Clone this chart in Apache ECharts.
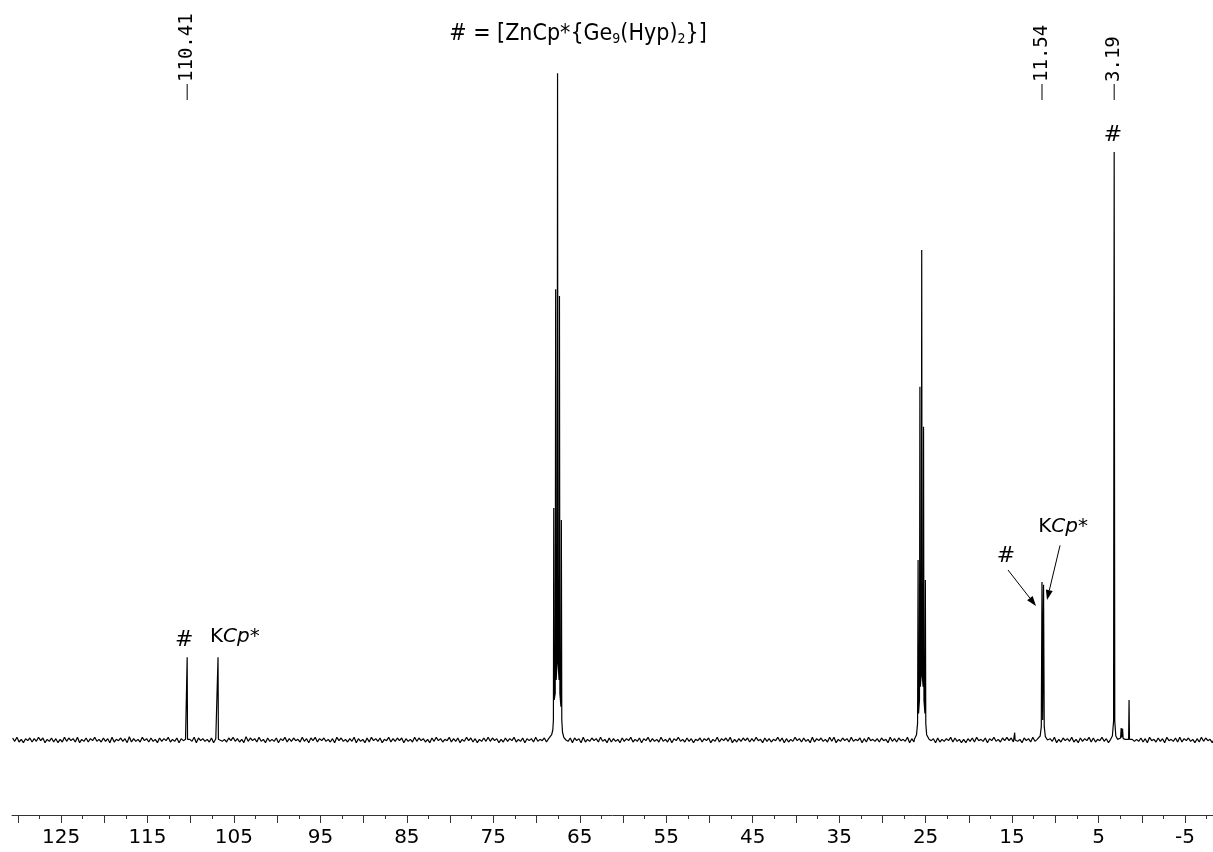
<!DOCTYPE html>
<html><head><meta charset="utf-8">
<script src="https://cdn.jsdelivr.net/npm/echarts@6/dist/echarts.min.js"></script>
<style>html,body{margin:0;padding:0;background:#fff}#c{width:1213px;height:852px}</style>
</head><body><div id="c"></div>
<script>
// ---- data ----
const noiseStart = 130.6, noiseStep = 0.25;
const noise = [
0.3,-0.2,0.4,-0.3,0.1,-0.4,0.2,-0.1,0.3,-0.3,0.2,-0.2,0.4,-0.1,0.3,-0.4,0.1,-0.2,0.3,-0.3,
0.2,-0.4,0.1,-0.3,0.4,-0.2,0.3,-0.1,0.2,-0.3,0.4,-0.4,0.1,-0.2,0.3,-0.3,0.2,-0.1,0.4,-0.2,
0.1,-0.3,0.3,-0.2,0.2,-0.4,0.4,-0.3,0.1,-0.1,0.3,-0.2,0.2,-0.4,0.5,-0.3,0.2,-0.2,0.1,-0.3,
0.4,-0.1,0.2,-0.3,0.3,-0.2,0.1,-0.4,0.3,-0.2,0.2,-0.1,0.4,-0.3,0.1,-0.2,0.3,-0.4,0.2,-0.1,
0.2,-0.3,0.1,-0.2,0.4,-0.4,0.3,-0.1,0.2,-0.2,0.1,-0.3,0.3,-0.4,0.2,-0.1,0.4,-0.2,0.1,-0.3,
0.3,-0.1,0.4,-0.2,0.2,-0.3,0.1,-0.4,0.5,-0.2,0.3,-0.1,0.2,-0.3,0.4,-0.2,0.1,-0.4,0.3,-0.2,
0.1,-0.2,0.3,-0.4,0.2,-0.1,0.4,-0.3,0.2,-0.2,0.3,-0.1,0.1,-0.3,0.4,-0.2,0.2,-0.4,0.3,-0.1,
0.4,-0.3,0.2,-0.1,0.3,-0.2,0.1,-0.3,0.2,-0.4,0.4,-0.1,0.3,-0.2,0.1,-0.3,0.2,-0.2,0.4,-0.4,
0.2,-0.2,0.1,-0.4,0.3,-0.3,0.4,-0.1,0.2,-0.2,0.3,-0.4,0.1,-0.1,0.4,-0.3,0.2,-0.2,0.3,-0.1,
0.3,-0.4,0.2,-0.2,0.1,-0.3,0.4,-0.2,0.3,-0.1,0.2,-0.3,0.1,-0.4,0.3,-0.2,0.4,-0.1,0.2,-0.3,
0.1,-0.1,0.4,-0.3,0.2,-0.2,0.3,-0.4,0.1,-0.2,0.4,-0.1,0.3,-0.3,0.2,-0.4,0.1,-0.2,0.3,-0.2,
0.4,-0.2,0.3,-0.1,0.2,-0.4,0.1,-0.3,0.3,-0.2,0.2,-0.1,0.4,-0.3,0.1,-0.2,0.3,-0.4,0.2,-0.1,
0.2,-0.3,0.4,-0.2,0.1,-0.1,0.3,-0.3,0.2,-0.4,0.3,-0.2,0.1,-0.3,0.4,-0.1,0.2,-0.2,0.3,-0.4,
0.3,-0.1,0.2,-0.4,0.4,-0.3,0.1,-0.2,0.3,-0.1,0.2,-0.3,0.4,-0.2,0.1,-0.4,0.3,-0.3,0.2,-0.2,
0.1,-0.4,0.3,-0.2,0.2,-0.1,0.4,-0.3,0.1,-0.2,0.3,-0.4,0.2,-0.1,0.4,-0.3,0.2,-0.2,0.1,-0.3,
0.4,-0.2,0.1,-0.3,0.3,-0.4,0.2,-0.1,0.4,-0.2,0.1,-0.3,0.3,-0.2,0.2,-0.4,0.1,-0.1,0.3,-0.3,
0.2,-0.1,0.3,-0.4,0.1,-0.2,0.4,-0.3,0.2,-0.1,0.3,-0.2,0.4,-0.4,0.1,-0.3,0.2,-0.2,0.3,-0.1,
0.3,-0.3,0.2,-0.2,0.4,-0.1,0.1,-0.4,0.3,-0.2,0.2,-0.3,0.1,-0.1,0.4,-0.2,0.3,-0.4,0.2,-0.3,
0.1,-0.2,0.4,-0.1,0.2,-0.3,0.3,-0.2,0.1,-0.4,0.4,-0.3,0.2,-0.1,0.3,-0.2,0.1,-0.3,0.4,-0.2,
0.4,-0.4,0.1,-0.2,0.3,-0.1,0.2,-0.3,0.4,-0.2,0.1,-0.1,0.3,-0.4,0.2,-0.3,0.4,-0.1,0.1,-0.2,
0.2,-0.3,0.3,-0.1,0.1,-0.4,0.4,-0.2,0.2,-0.3,0.3,-0.1,0.1,-0.2,0.4,-0.4,0.2,-0.3,0.3,-0.2,
0.3,-0.2,0.1,-0.3,0.4,-0.1,0.2,-0.4,0.3,-0.3,0.1,-0.2,0.2,-0.1,0.4,-0.3,0.3,-0.2,0.1,-0.4,
0.1,-0.4,0.2,-0.2,0.3,-0.3,0.4,-0.1,0.1,-0.2,0.3,-0.4,0.2,-0.1,0.4,-0.2,0.1,-0.3,0.3,-0.1,
0.4,-0.1,0.3,-0.3,0.2,-0.2,0.1,-0.4,0.3,-0.1,0.2,-0.3,0.4,-0.2,0.1,-0.1,0.3,-0.4,0.2,-0.2,
0.2,-0.2,0.4,-0.4,0.1,-0.3,0.3,-0.1,0.2,-0.2,0.4,-0.3,0.1,-0.4,0.3,-0.2,0.2,-0.1,0.4,-0.3,
0.3,-0.3,0.1,-0.1,0.4,-0.2,0.2,-0.4,0.3,-0.3,0.1,-0.2,0.4,-0.1,0.2,-0.3,0.3,-0.4,0.1,-0.2,
0.1,-0.2,0.3,-0.3,0.2,-0.4,0.4,-0.1,0.1,-0.3,0.3,-0.2,0.2,-0.4,0.4,-0.1,0.1,-0.2,0.3,-0.3,
0.4,-0.3,0.2,-0.1,0.3,-0.2,0.1,-0.4,0.2,-0.3,0.4,-0.2,0.3,-0.1,0.1,-0.4,0.2,-0.2,0.3,-0.1
];
// peak groups: [ppm, intensity]
const peakHash110 = [[110.6,0.1],[110.45,0.2],[110.41,12.4],[110.37,0.1],[110.2,-0.1]];
const peakKCp107 = [[107.05,0],[106.88,0.2],[106.84,12.4],[106.80,0.1],[106.6,0]];
const peakTHF67 = [[68.5,0.2],[68.25,0.8],[68.12,1.5],[68.05,3],[68.01,34.8],[67.96,6],[67.84,7],[67.79,67.6],[67.73,9],[67.62,12],[67.57,100],[67.52,12],[67.40,9],[67.35,66.6],[67.30,7],[67.18,5],[67.13,33],[67.08,3],[67.0,1.2],[66.85,0.4],[66.6,0]];
const peakTHF25 = [[26.3,0.1],[26.05,0.8],[25.93,2.5],[25.87,27],[25.82,4],[25.71,6],[25.66,53],[25.61,8],[25.50,10],[25.45,73.5],[25.40,10],[25.29,8],[25.24,47],[25.19,6],[25.08,4],[25.03,24],[24.98,2.5],[24.88,0.8],[24.6,0.1]];
const peakSmall15 = [[14.75,0],[14.7,1.1],[14.65,0]];
const peak11 = [[12.0,0.1],[11.75,0.6],[11.62,2],[11.54,23.7],[11.46,3],[11.36,23.3],[11.28,2],[11.15,0.5],[10.9,0]];
const peak3 = [[3.6,0.1],[3.4,0.6],[3.26,2.8],[3.19,88.2],[3.12,2.8],[3.0,0.6],[2.8,0.1],[2.45,0.3],[2.38,1.8],[2.32,0.4],[2.22,1.7],[2.15,0.2],[1.9,0.1],[1.52,0.1],[1.47,6],[1.42,0.1],[1.2,0]];

const majorTicks = [130,125,120,115,110,105,100,95,90,85,80,75,70,65,60,55,50,45,40,35,30,25,20,15,10,5,0,-5];
const minorTicks = [127.5,122.5,117.5,112.5,107.5,102.5,97.5,92.5,87.5,82.5,77.5,72.5,67.5,62.5,57.5,52.5,47.5,42.5,37.5,32.5,27.5,22.5,17.5,12.5,7.5,2.5,-2.5,-7.5];
const tickLabels = [125,115,105,95,85,75,65,55,45,35,25,15,5,-5];
const shiftLabels = ['110.41','11.54','3.19'];

// ---- build ----
const groups = [peakHash110, peakKCp107, peakTHF67, peakTHF25, peakSmall15, peak11, peak3];
const ranges = groups.map(g => [g[g.length-1][0], g[0][0]]);
const pts = [];
noise.forEach((v,i) => {
  const x = +(noiseStart - i*noiseStep).toFixed(3);
  if (!ranges.some(r => x >= r[0] && x <= r[1])) pts.push([x, v]);
});
groups.forEach(g => g.forEach(p => pts.push(p)));
pts.sort((a,b) => b[0]-a[0]);

const XMIN = -8.24, XMAX = 130.67;
const chart = echarts.init(document.getElementById('c'), null, {renderer:'canvas'});
const axisBase = {type:'value', min:XMIN, max:XMAX, inverse:true, gridIndex:0, splitLine:{show:false}, position:'bottom', offset:0};
chart.setOption({
  animation:false,
  backgroundColor:'#fff',
  grid:{left:12,right:0,top:40,bottom:37},
  xAxis:[
    Object.assign({}, axisBase, {
      axisLine:{show:true,onZero:false,lineStyle:{color:'#333',width:1}},
      axisTick:{show:true,customValues:majorTicks,length:8,lineStyle:{color:'#333',width:1}},
      axisLabel:{show:true,customValues:tickLabels,margin:13,fontSize:20,color:'#000',fontFamily:'DejaVu Sans'}
    }),
    Object.assign({}, axisBase, {
      axisLine:{show:false,onZero:false},
      axisTick:{show:true,customValues:minorTicks,length:4,lineStyle:{color:'#333',width:1}},
      axisLabel:{show:false}
    })
  ],
  yAxis:{type:'value',min:-11.25,max:105,show:false,splitLine:{show:false}},
  series:[{type:'line',data:pts,showSymbol:false,symbol:'none',lineStyle:{color:'#000',width:1.2},clip:true}]
});

function P(ppm, v){ return chart.convertToPixel({xAxisIndex:0,yAxisIndex:0},[ppm,v]); }
const g = [];
// chemical shift labels at top
shiftLabels.forEach(s => {
  const x = P(parseFloat(s),0)[0];
  g.push({type:'line',shape:{x1:x,y1:84,x2:x,y2:100},style:{stroke:'#000',lineWidth:1}});
  g.push({type:'text',x:x,y:82,rotation:Math.PI/2,style:{text:s,font:'19px "DejaVu Sans Mono"',fill:'#000',textAlign:'left',textVerticalAlign:'middle'}});
});
// title
g.push({type:'text',x:578,y:34,style:{text:'# = [ZnCp*{Ge{s|9}(Hyp){s|2}}]',font:'condensed 23px "DejaVu Sans Condensed", "DejaVu Sans"',fill:'#000',textAlign:'center',textVerticalAlign:'middle',
  rich:{s:{font:'condensed 14px "DejaVu Sans Condensed", "DejaVu Sans"',fill:'#000',padding:[10,0,0,0]}}}});
// peak labels
const hashLabels = [[110.76,15],[15.7,27.6],[3.32,90.7]];
hashLabels.forEach(a => { const p = P(a[0],a[1]);
  g.push({type:'text',x:p[0],y:p[1],style:{text:'#',font:'22px "DejaVu Sans"',fill:'#000',textAlign:'center',textVerticalAlign:'middle'}}); });
const kcpLabels = [[104.9,15.5],[9.1,32]];
kcpLabels.forEach(a => { const p = P(a[0],a[1]);
  g.push({type:'text',x:p[0],y:p[1],style:{text:'{n|K}{i|Cp*}',textAlign:'center',textVerticalAlign:'middle',
    rich:{n:{font:'20px "DejaVu Sans"',fill:'#000'},i:{font:'italic 20px "DejaVu Sans"',fill:'#000'}}}}); });
// arrows
const arrows = [[[15.47,25.5],[12.23,20.1]],[[9.45,29.2],[10.96,21.0]]];
arrows.forEach(a => {
  const s = P(a[0][0],a[0][1]), e = P(a[1][0],a[1][1]);
  const dx = e[0]-s[0], dy = e[1]-s[1], L = Math.hypot(dx,dy), ux = dx/L, uy = dy/L;
  const hl = 10, hw = 3.5;
  const bx = e[0]-ux*hl, by = e[1]-uy*hl;
  g.push({type:'line',shape:{x1:s[0],y1:s[1],x2:bx,y2:by},style:{stroke:'#000',lineWidth:1}});
  g.push({type:'polygon',shape:{points:[[e[0],e[1]],[bx-uy*hw,by+ux*hw],[bx+uy*hw,by-ux*hw]]},style:{fill:'#000'}});
});
chart.setOption({graphic:g});
</script>
</body></html>
